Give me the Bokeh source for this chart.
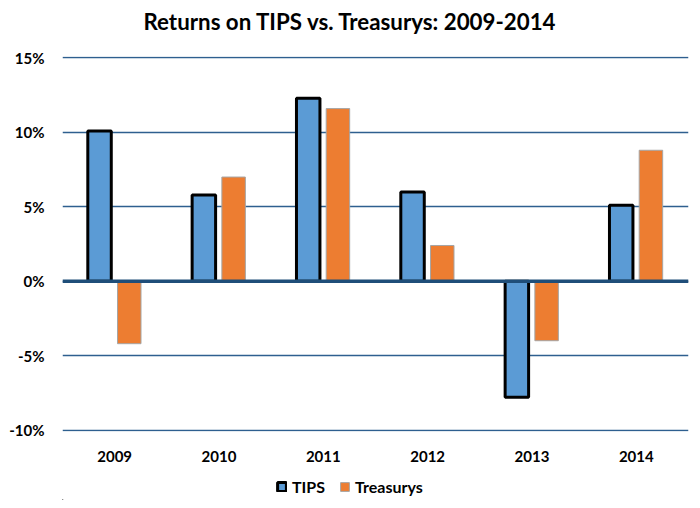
from bokeh.plotting import figure
from bokeh.layouts import column
from bokeh.models import FactorRange, Range1d, FixedTicker, PrintfTickFormatter, Span, Legend, LegendItem, ColumnDataSource, Div
from bokeh.transform import dodge
from bokeh.embed import file_html
from bokeh.resources import INLINE

title_text = "Returns on TIPS vs. Treasurys: 2009-2014"
years = ["2009", "2010", "2011", "2012", "2013", "2014"]
tips = [10.1, 5.8, 12.3, 6.0, -7.8, 5.1]
treasurys = [-4.2, 7.0, 11.6, 2.4, -4.0, 8.8]
y_ticks = [-10, -5, 0, 5, 10, 15]
series_names = ["TIPS", "Treasurys"]

FONT = "Lato"
TIPS_FILL, TIPS_LINE = "#5B9BD5", "#000000"
TR_FILL, TR_LINE = "#ED7D31", "#A5A5A5"

src = ColumnDataSource(dict(year=years, tips=tips, treasurys=treasurys))

title = Div(text=title_text, width=692, height=44, margin=0,
            styles={"font-family": FONT, "font-size": "22.3px", "font-weight": "bold",
                    "color": "#000000", "text-align": "center", "line-height": "44px",
                    "padding-left": "7px", "box-sizing": "border-box", "white-space": "nowrap"})

p = figure(width=692, height=426, x_range=FactorRange(*years, range_padding=0),
           y_range=Range1d(-10.1, 15.1), output_backend="svg", toolbar_location=None,
           min_border_left=62, min_border_right=4, min_border_top=12, min_border_bottom=39)

p.vbar(x=dodge("year", -0.145, range=p.x_range), top="tips", bottom=0, width=0.225, source=src,
       fill_color=TIPS_FILL, line_color=TIPS_LINE, line_width=3)
p.vbar(x=dodge("year", 0.14, range=p.x_range), top="treasurys", bottom=0, width=0.225, source=src,
       fill_color=TR_FILL, line_color=TR_LINE, line_width=1)

p.add_layout(Span(location=0, dimension="width", line_color="#1F4E79", line_width=3.5, level="overlay"))

p.xgrid.grid_line_color = None
p.ygrid.grid_line_color = "#2E5F8F"
p.ygrid.grid_line_width = 1.5
p.ygrid.ticker = FixedTicker(ticks=y_ticks)

p.yaxis.ticker = FixedTicker(ticks=y_ticks)
p.yaxis.formatter = PrintfTickFormatter(format="%d%%")
for ax in (p.xaxis[0], p.yaxis[0]):
    ax.axis_line_color = None
    ax.major_tick_line_color = None
    ax.minor_tick_line_color = None
    ax.major_label_text_font = FONT
    ax.major_label_text_font_size = "15px"
    ax.major_label_text_font_style = "bold"
    ax.major_label_text_color = "#000000"
p.yaxis.major_label_standoff = 12
p.xaxis.major_label_standoff = 13
p.outline_line_color = None

# legend strip (legend swatches use hidden, out-of-view glyphs)
lg = figure(width=692, height=30, x_range=Range1d(0, 1), y_range=Range1d(0, 1),
            output_backend="svg", toolbar_location=None,
            min_border_left=0, min_border_right=0, min_border_top=0, min_border_bottom=0)
lg.axis.visible = False
lg.grid.visible = False
lg.outline_line_color = None
g1 = lg.vbar(x=-10, top=-10, width=1, fill_color=TIPS_FILL, line_color=TIPS_LINE, line_width=3)
g2 = lg.vbar(x=-10, top=-10, width=1, fill_color=TR_FILL, line_color=TR_LINE, line_width=1)
legend = Legend(items=[LegendItem(label=series_names[0], renderers=[g1]),
                       LegendItem(label=series_names[1], renderers=[g2])],
                orientation="horizontal", location=(214, 4),
                label_text_font=FONT, label_text_font_size="16px", label_text_font_style="bold",
                label_text_color="#000000",
                label_height=15, glyph_width=11, glyph_height=11, label_standoff=5, spacing=14,
                border_line_color=None, background_fill_alpha=0, padding=0, margin=0)
lg.add_layout(legend, "center")

layout = column(title, p, lg, spacing=0)
open("out.html", "w").write(file_html(layout, INLINE))
